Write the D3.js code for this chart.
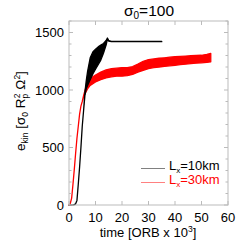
<!DOCTYPE html>
<html>
<head>
<meta charset="utf-8">
<script src="https://cdn.jsdelivr.net/npm/d3@7"></script>
<style>
  body { margin: 0; background: #fff; }
  text { font-family: "Liberation Sans", Arial, sans-serif; }
</style>
</head>
<body>
<svg id="chart" width="249" height="249"></svg>
<script>
// Lx = 10km run (black): time [ORB x 10^3], lower / upper envelope of e_kin
var blackT  = [0, 1, 2, 2.5, 3, 3.5, 4, 4.5, 5, 5.5, 6, 6.5, 7, 8, 9, 10, 11, 12, 13, 14, 14.5, 15, 16, 20, 25, 30, 35];
var blackLo = [0, 0, 3, 10, 40, 180, 330, 500, 685, 820, 950, 1010, 1040, 1090, 1140, 1180, 1220, 1260, 1320, 1390, 1440, 1425, 1420, 1420, 1420, 1420, 1420];
var blackHi = [0, 0, 3, 10, 40, 180, 330, 500, 685, 820, 980, 1080, 1160, 1280, 1330, 1355, 1375, 1390, 1405, 1430, 1452, 1430, 1423, 1423, 1422, 1422, 1422];

// Lx = 30km run (red)
var redT  = [0, 0.5, 1, 1.5, 2, 2.5, 3, 3.5, 4, 4.5, 5, 5.5, 6, 7, 8, 9, 10, 12, 14, 16, 18, 20, 22, 24, 26, 28, 30, 32, 34, 36, 38, 40, 42, 44, 46, 48, 50, 52, 53.5];
var redLo = [0, 15, 60, 180, 310, 450, 580, 685, 790, 860, 900, 940, 965, 1010, 1040, 1055, 1070, 1090, 1105, 1115, 1120, 1120, 1125, 1135, 1155, 1170, 1185, 1195, 1200, 1205, 1210, 1215, 1220, 1225, 1230, 1233, 1236, 1240, 1245];
var redHi = [0, 15, 60, 180, 310, 450, 580, 685, 790, 860, 900, 950, 995, 1070, 1100, 1115, 1130, 1155, 1175, 1185, 1190, 1195, 1195, 1203, 1225, 1250, 1265, 1270, 1276, 1280, 1285, 1290, 1292, 1295, 1298, 1300, 1302, 1310, 1318];

var xTicks = [0, 10, 20, 30, 40, 50, 60];
var yTicks = [0, 500, 1000, 1500];
var yMinor = d3.range(0, 1601, 100);

var svg = d3.select("#chart");
var padL = 69, padR = 228, padT = 21, padB = 205;

var x = d3.scaleLinear().domain([0, 60]).range([padL, padR]);
var y = d3.scaleLinear().domain([0, 1600]).range([padB, padT]);

var frameColor = "#bbbbbb";

// runs as filled bands between the envelopes
function band(t, lo, hi, color) {
  var pts = t.map(function(d, i) { return [d, lo[i], hi[i]]; });
  var area = d3.area()
      .x(function(d) { return x(d[0]); })
      .y0(function(d) { return y(d[1]); })
      .y1(function(d) { return y(d[2]); });
  svg.append("path")
      .attr("d", area(pts))
      .attr("fill", color)
      .attr("stroke", color)
      .attr("stroke-width", 1.3)
      .attr("stroke-linejoin", "round");
}
band(redT, redLo, redHi, "#ff0000");
band(blackT, blackLo, blackHi, "#000000");

// frame
svg.append("rect")
    .attr("x", padL).attr("y", padT)
    .attr("width", padR - padL).attr("height", padB - padT)
    .attr("fill", "none").attr("stroke", frameColor).attr("stroke-width", 1);

// ticks (inward, all four sides)
var g = svg.append("g").attr("stroke", frameColor).attr("stroke-width", 1);
xTicks.forEach(function(t) {
  g.append("line").attr("x1", x(t)).attr("x2", x(t)).attr("y1", padB).attr("y2", padB - 4);
  g.append("line").attr("x1", x(t)).attr("x2", x(t)).attr("y1", padT).attr("y2", padT + 4);
});
yMinor.forEach(function(v) {
  var len = (v % 500 === 0) ? 4 : 2.5;
  g.append("line").attr("x1", padL).attr("x2", padL + len).attr("y1", y(v)).attr("y2", y(v));
  g.append("line").attr("x1", padR).attr("x2", padR - len).attr("y1", y(v)).attr("y2", y(v));
});

// tick labels
svg.selectAll(".xl").data(xTicks).enter().append("text")
    .attr("x", function(d) { return x(d); })
    .attr("y", 222)
    .attr("text-anchor", "middle")
    .attr("font-size", 13)
    .text(function(d) { return d; });
svg.selectAll(".yl").data(yTicks).enter().append("text")
    .attr("x", 64)
    .attr("y", function(d) { return y(d) + 4.5; })
    .attr("text-anchor", "end")
    .attr("font-size", 13)
    .text(function(d) { return d; });

// title
var title = svg.append("text")
    .attr("x", 149).attr("y", 16)
    .attr("text-anchor", "middle")
    .attr("font-size", 15.5);
title.append("tspan").text("σ");
title.append("tspan").attr("font-size", 10).attr("dy", 3).text("0");
title.append("tspan").attr("dy", -3).text("=100");

// x label
var xl = svg.append("text")
    .attr("x", 148).attr("y", 237)
    .attr("text-anchor", "middle")
    .attr("font-size", 13);
xl.append("tspan").text("time [ORB x 10");
xl.append("tspan").attr("font-size", 8.5).attr("dy", -5).text("3");
xl.append("tspan").attr("dy", 5).text("]");

// y label
var yl = svg.append("text")
    .attr("transform", "translate(25," + ((padT + padB) / 2 - 2) + ") rotate(-90)")
    .attr("text-anchor", "middle")
    .attr("font-size", 13.5);
yl.append("tspan").text("e");
yl.append("tspan").attr("font-size", 8.5).attr("dy", 3).text("kin");
yl.append("tspan").attr("dy", -3).text(" [σ");
yl.append("tspan").attr("font-size", 8.5).attr("dy", 3).text("0");
yl.append("tspan").attr("dy", -3).text(" R");
yl.append("tspan").attr("font-size", 8.5).attr("dy", 3).text("p");
yl.append("tspan").attr("font-size", 8.5).attr("dx", -4.5).attr("dy", -8).text("2");
yl.append("tspan").attr("dy", 5).text(" Ω");
yl.append("tspan").attr("font-size", 8.5).attr("dy", -5).text("2");
yl.append("tspan").attr("dy", 5).text("]");

// legend
var legend = [
  { label: "10km", color: "#000000", yy: 168.5 },
  { label: "30km", color: "#ff0000", yy: 182.5 }
];
legend.forEach(function(d) {
  svg.append("line")
      .attr("x1", 141).attr("x2", 165)
      .attr("y1", d.yy).attr("y2", d.yy)
      .attr("stroke", d.color).attr("stroke-width", 0.5);
  var t = svg.append("text")
      .attr("x", 169).attr("y", d.yy + 1)
      .attr("font-size", 13)
      .attr("fill", d.color);
  t.append("tspan").text("L");
  t.append("tspan").attr("font-size", 8).attr("dy", 3).text("x");
  t.append("tspan").attr("dy", -3).text("=" + d.label);
});
</script>
</body>
</html>
